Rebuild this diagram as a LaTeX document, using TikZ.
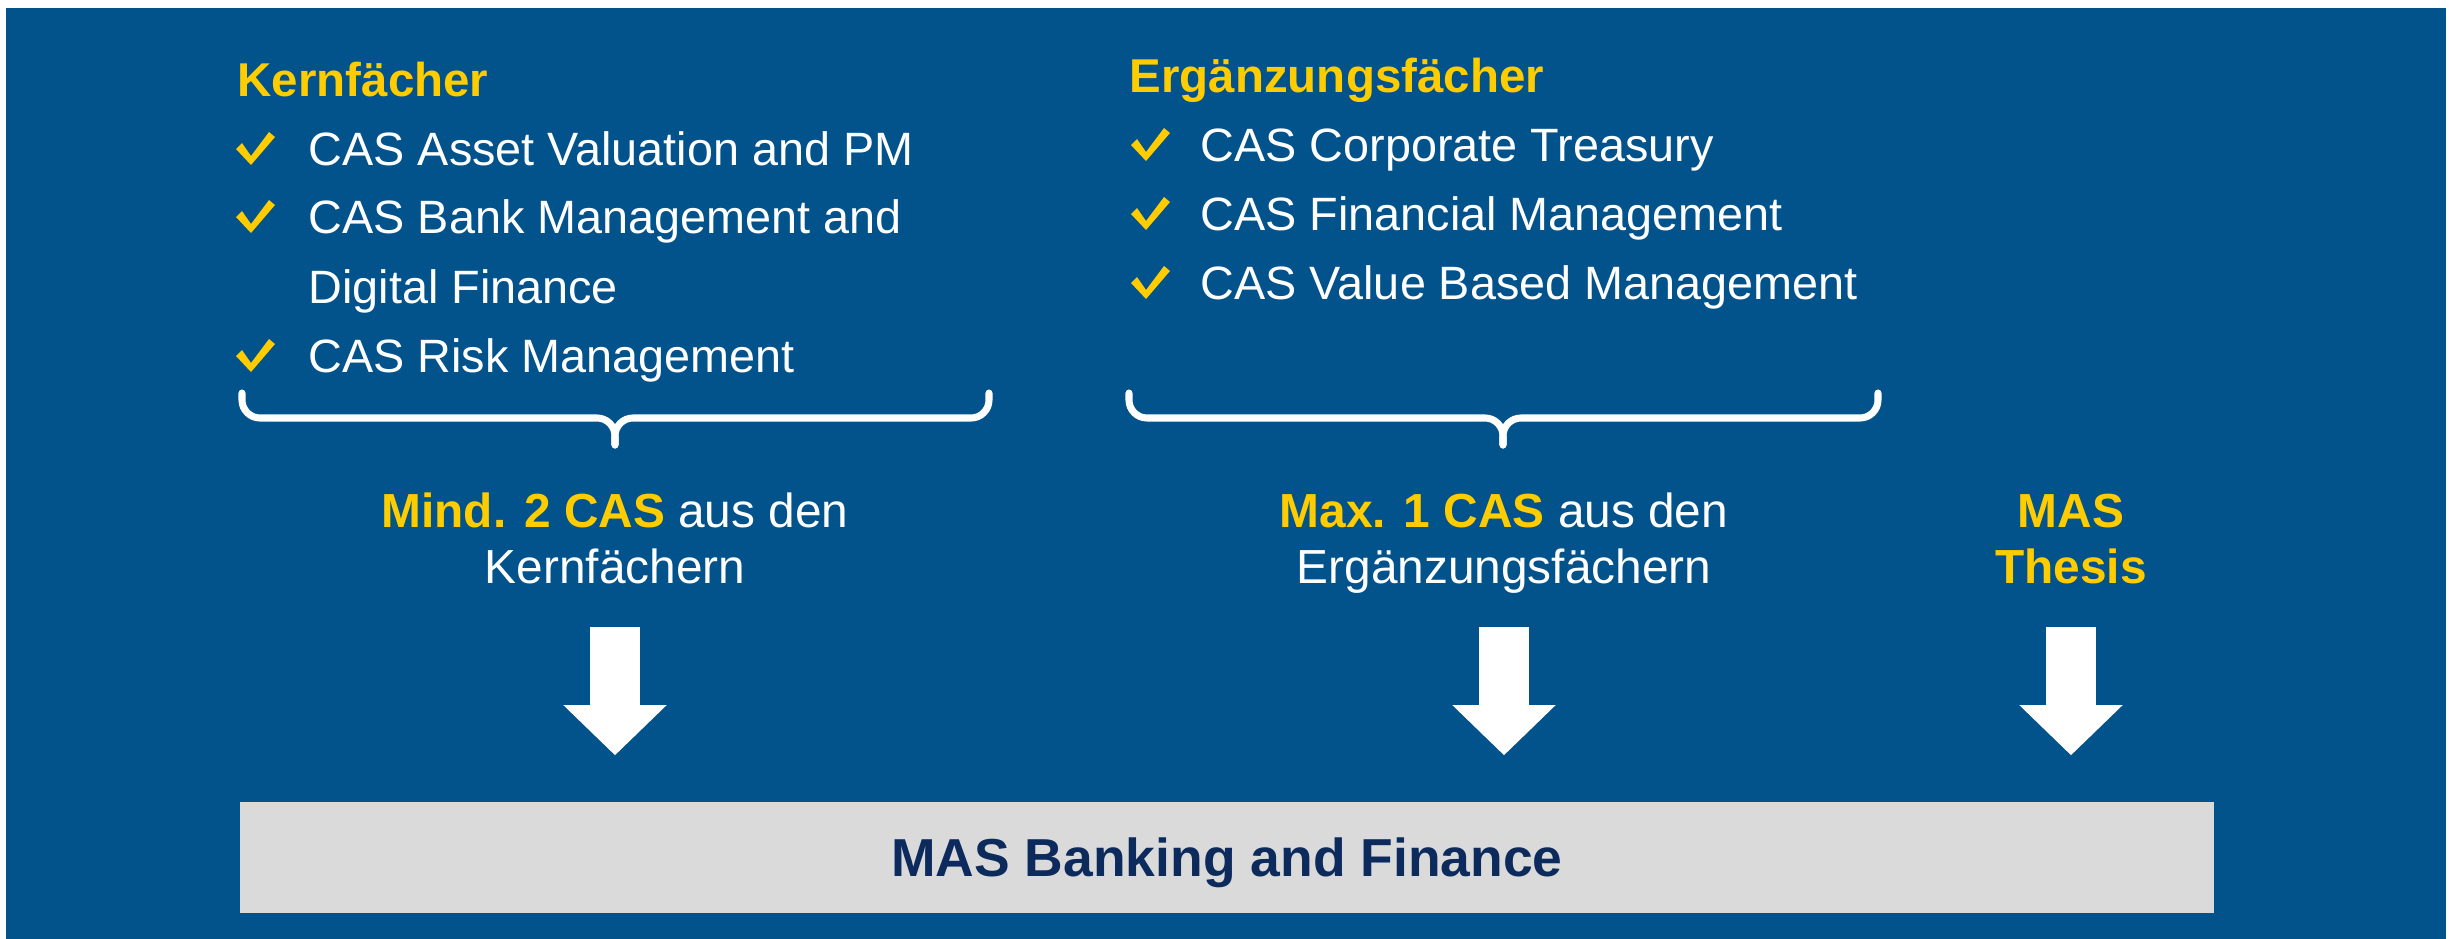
\documentclass[tikz,border=0pt]{standalone}
\usepackage{fontspec}
\setmainfont{Liberation Sans}
\usetikzlibrary{calc}
\usetikzlibrary{arrows.meta}

\definecolor{masblue}{RGB}{2,82,139}
\definecolor{masyellow}{RGB}{255,204,0}
\definecolor{masnavy}{RGB}{12,42,92}
\definecolor{masgray}{RGB}{218,218,218}

\tikzset{
  tick/.pic={\fill[masyellow] (2,17) -- (8,11) -- (17,24) -- (35,0) -- (41,5) -- (17,33) -- cycle;},
  head/.style={anchor=base west, inner sep=0pt, text=masyellow, font=\bfseries\fontsize{13.5}{16}\selectfont},
  item/.style={anchor=base west, inner sep=0pt, text=white, font=\fontsize{13.3}{16}\selectfont},
  summary/.style={anchor=base, align=center, inner sep=0pt, text=white, font=\fontsize{13.6}{15.9}\selectfont},
  curly/.style={draw=white, line width=2pt, line cap=round, rounded corners=0.18cm},
  bigarrow/.style={draw=white, line width=0.5cm, -{Triangle[width=1cm, length=0.5cm]}},
  masbox/.style={fill=masgray, text=masnavy, font=\bfseries\fontsize{15.2}{18}\selectfont,
                 minimum width=19.72cm, minimum height=1.11cm, text depth=0pt, inner sep=0pt}
}

\begin{document}
\begin{tikzpicture}[x=0.01cm, y=-0.01cm]
    \useasboundingbox (0,0) rectangle (2450,939);
    \fill[masblue] (6,8) rectangle (2446,939);

    % Kernfaecher
    \node[head] (kern) at (237,96) {Kernfächer};
    \node[item] (k1) at (308,165) {CAS Asset Valuation and PM};
    \node[item] (k2) at (308,233) {CAS Bank Management and};
    \node[item] (k2b) at (308,303) {Digital Finance};
    \node[item] (k3) at (308,372) {CAS Risk Management};
    \foreach \n in {k1,k2,k3}
        \pic at ($(\n.base west)+(-74,-33)$) {tick};

    % Ergaenzungsfaecher
    \node[head] (erg) at (1129,92) {Ergänzungsfächer};
    \node[item] (e1) at (1200,161) {CAS Corporate Treasury};
    \node[item] (e2) at (1200,230) {CAS Financial Management};
    \node[item] (e3) at (1200,299) {CAS Value Based Management};
    \foreach \n in {e1,e2,e3}
        \pic at ($(\n.base west)+(-71,-33)$) {tick};

    % braces
    \foreach \l/\t/\r in {242/615/989, 1129/1503/1878} {
        \draw[curly] (\l,393) |- (\t,418) -- (\t,445);
        \draw[curly] (\r,393) |- (\t,418) -- (\t,445);
    }

    \node[summary] (mind) at (615,583) {\textcolor{masyellow}{\bfseries Mind. 2 CAS} aus den\\Kernfächern};
    \node[summary] (maxi) at (1504,583) {\textcolor{masyellow}{\bfseries Max. 1 CAS} aus den\\Ergänzungsfächern};
    \node[summary, text=masyellow, font=\bfseries\fontsize{13.6}{15.9}\selectfont] (thesis) at (2071,583) {MAS\\Thesis};

    \node[masbox] (mas) at (1227,857.5) {MAS Banking and Finance};

    \foreach \src in {mind,maxi,thesis}
        \draw[bigarrow] ($(\src.base)+(0,44)$) -- ($(\src.base |- mas.north)+(0,-46)$);

\end{tikzpicture}
\end{document}
